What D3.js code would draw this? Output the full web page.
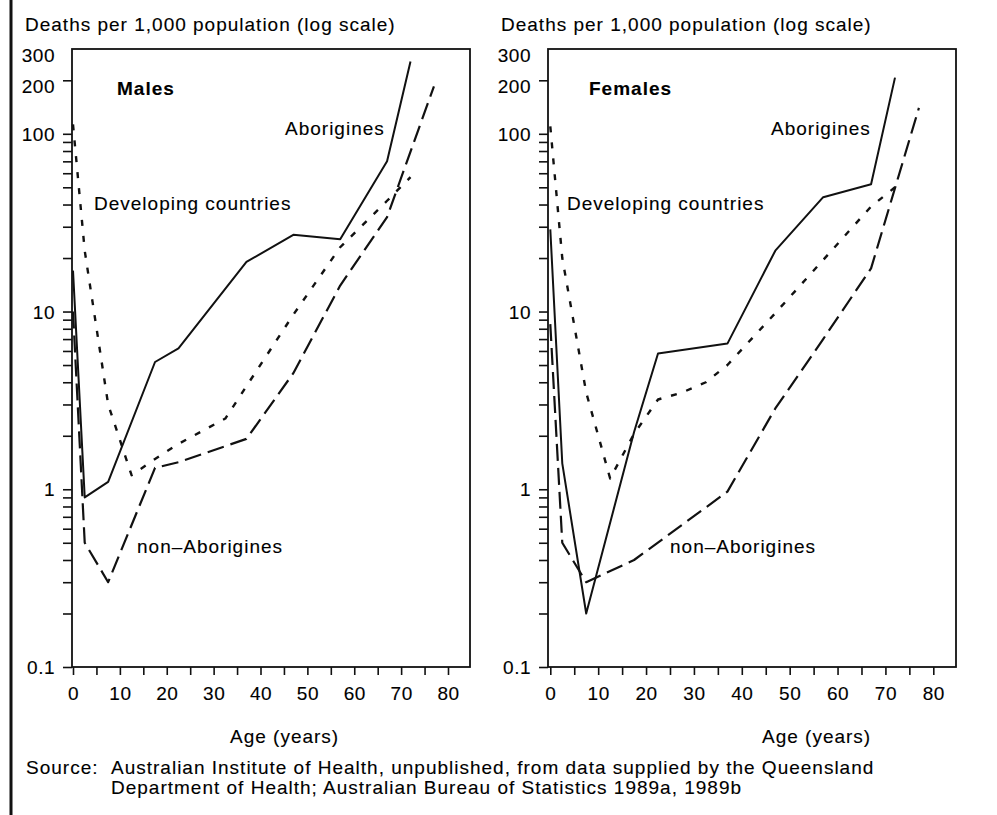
<!DOCTYPE html>
<html>
<head>
<meta charset="utf-8">
<script src="https://cdn.jsdelivr.net/npm/d3@7"></script>
<style>
  html, body { margin: 0; padding: 0; background: #fff; }
  svg { display: block; }
  text { font-family: "Liberation Sans", Arial, Helvetica, sans-serif; fill: #000; stroke: #000; stroke-width: 0.12px; }
</style>
</head>
<body>
<div id="chart"></div>
<script>
// Age-specific death rates, deaths per 1,000 population
const maleAborAge  = [0, 2.5, 7.5, 17.5, 22.5, 37, 47, 57, 67, 72];
const maleAborRate = [17, 0.9, 1.1, 5.2, 6.2, 19, 27, 25.5, 70, 255];

const maleDevAge  = [0, 2.5, 7.5, 12.5, 17.5, 22.5, 32.5, 37, 47, 57, 67, 72];
const maleDevRate = [113, 22, 3.0, 1.2, 1.48, 1.8, 2.5, 3.8, 9.6, 23, 42, 57];

const maleNonAge  = [0, 2.5, 7.5, 17.5, 22.5, 37, 47, 57, 67, 77];
const maleNonRate = [10, 0.5, 0.3, 1.32, 1.42, 1.92, 4.5, 14, 34, 185];

const femAborAge  = [0, 2.5, 7.5, 17.5, 22.5, 37, 47, 57, 67, 72];
const femAborRate = [29, 1.4, 0.2, 2.1, 5.8, 6.6, 22, 44, 52, 207];

const femDevAge  = [0, 2.5, 7.5, 12.5, 17.5, 22.5, 27.5, 32.5, 37, 47, 57, 67, 72];
const femDevRate = [110, 20, 3.5, 1.15, 2.05, 3.2, 3.5, 4.0, 5.0, 9.8, 19.5, 39, 50];

const femNonAge  = [0, 2.5, 7.5, 17.5, 37, 47, 57, 67, 77];
const femNonRate = [8.5, 0.5, 0.3, 0.4, 0.97, 2.85, 7.0, 17.5, 140];

// axis labels
const yLabelled = [0.1, 1, 10, 100, 200, 300];
const xTicks = d3.range(0, 85, 5);
const xLabelled = [0, 10, 20, 30, 40, 50, 60, 70, 80];

const yTitle = "Deaths per 1,000 population (log scale)";
const xTitle = "Age (years)";
const sourceLines = [
    "Australian Institute of Health, unpublished, from data supplied by the Queensland",
    "Department of Health; Australian Bureau of Statistics 1989a, 1989b"
];

const zip = (ages, rates) => ages.map((a, i) => ({ age: a, rate: rates[i] }));

// dash patterns for the three series
const styles = {
    abor: { dash: null, width: 2 },
    dev:  { dash: "6,10", width: 2.4 },
    non:  { dash: "17,7", width: 2.2 }
};

const panels = [
    {
        name: "Males", left: 72, right: 470, x0: 73, x80: 448,
        series: [
            { key: "abor", data: zip(maleAborAge, maleAborRate) },
            { key: "dev",  data: zip(maleDevAge, maleDevRate) },
            { key: "non",  data: zip(maleNonAge, maleNonRate) }
        ],
        nameX: 117, aborX: 285, devX: 94, nonX: 137, ageX: 230
    },
    {
        name: "Females", left: 548, right: 956, x0: 550.3, x80: 933.3,
        series: [
            { key: "abor", data: zip(femAborAge, femAborRate) },
            { key: "dev",  data: zip(femDevAge, femDevRate) },
            { key: "non",  data: zip(femNonAge, femNonRate) }
        ],
        nameX: 589, aborX: 771, devX: 567, nonX: 670, ageX: 762
    }
];

const width = 997, height = 815;
const plotTop = 49, plotBottom = 667;

const svg = d3.select("#chart").append("svg")
    .attr("width", width)
    .attr("height", height);

svg.append("rect").attr("width", width).attr("height", height).attr("fill", "#fff");

// page border on the left
svg.append("line")
    .attr("x1", 11).attr("x2", 11).attr("y1", 0).attr("y2", height)
    .attr("stroke", "#111").attr("stroke-width", 3);

const y = d3.scaleLog().domain([0.1, 300]).range([plotBottom, plotTop]);
const yFmt = d => yLabelled.includes(+d.toPrecision(3)) ? String(+d.toPrecision(3)) : "";

panels.forEach(p => {
    const x = d3.scaleLinear().domain([0, 80]).range([p.x0, p.x80]);
    const g = svg.append("g");

    // y axis
    const ya = g.append("g")
        .attr("transform", `translate(${p.left},0)`)
        .call(d3.axisLeft(y).tickValues(y.ticks()).tickFormat(yFmt).tickSize(9).tickPadding(8));
    ya.select(".domain").remove();
    ya.selectAll(".tick").filter(d => d >= 299).select("line").remove();
    ya.selectAll(".tick text")
        .style("font-size", "19px")
        .style("letter-spacing", "0.5px")
        .attr("dy", d => d >= 199 ? "0.65em" : "0.34em");
    ya.selectAll(".tick line").attr("stroke", "#111").attr("stroke-width", 1.6);

    // x axis
    const xa = g.append("g")
        .attr("transform", `translate(0,${plotBottom})`)
        .call(d3.axisBottom(x).tickValues(xTicks)
            .tickFormat(d => xLabelled.includes(d) ? d : "")
            .tickSize(8).tickPadding(12));
    xa.select(".domain").remove();
    xa.selectAll(".tick text").style("font-size", "19px").style("letter-spacing", "0.5px");
    xa.selectAll(".tick line").attr("stroke", "#111").attr("stroke-width", 1.6);

    // frame
    g.append("rect")
        .attr("x", p.left).attr("y", plotTop)
        .attr("width", p.right - p.left).attr("height", plotBottom - plotTop)
        .attr("fill", "none").attr("stroke", "#111").attr("stroke-width", 1.8);

    // series
    const line = d3.line().x(d => x(d.age)).y(d => y(d.rate));
    p.series.forEach(s => {
        g.append("path")
            .datum(s.data)
            .attr("d", line)
            .attr("fill", "none")
            .attr("stroke", "#111")
            .attr("stroke-width", styles[s.key].width)
            .attr("stroke-dasharray", styles[s.key].dash)
            .attr("stroke-linejoin", "round");
    });

    const label = (txt, xx, yy, bold) => g.append("text")
        .attr("x", xx).attr("y", yy)
        .style("font-size", "19px")
        .style("letter-spacing", "1px")
        .style("font-weight", bold ? "bold" : "normal")
        .text(txt);

    label(yTitle, p.left - 47, 30.5);
    label(p.name, p.nameX, 95, true);
    label("Aborigines", p.aborX, 135);
    label("Developing countries", p.devX, 210);
    label("non\u2013Aborigines", p.nonX, 553);
    label(xTitle, p.ageX, 743);
});

// source note
const src = svg.append("g").style("font-size", "19px").style("letter-spacing", "1px");
src.append("text").attr("x", 26).attr("y", 774).text("Source:");
sourceLines.forEach((t, i) => {
    src.append("text").attr("x", 111).attr("y", 774 + i * 20).text(t);
});
</script>
</body>
</html>
